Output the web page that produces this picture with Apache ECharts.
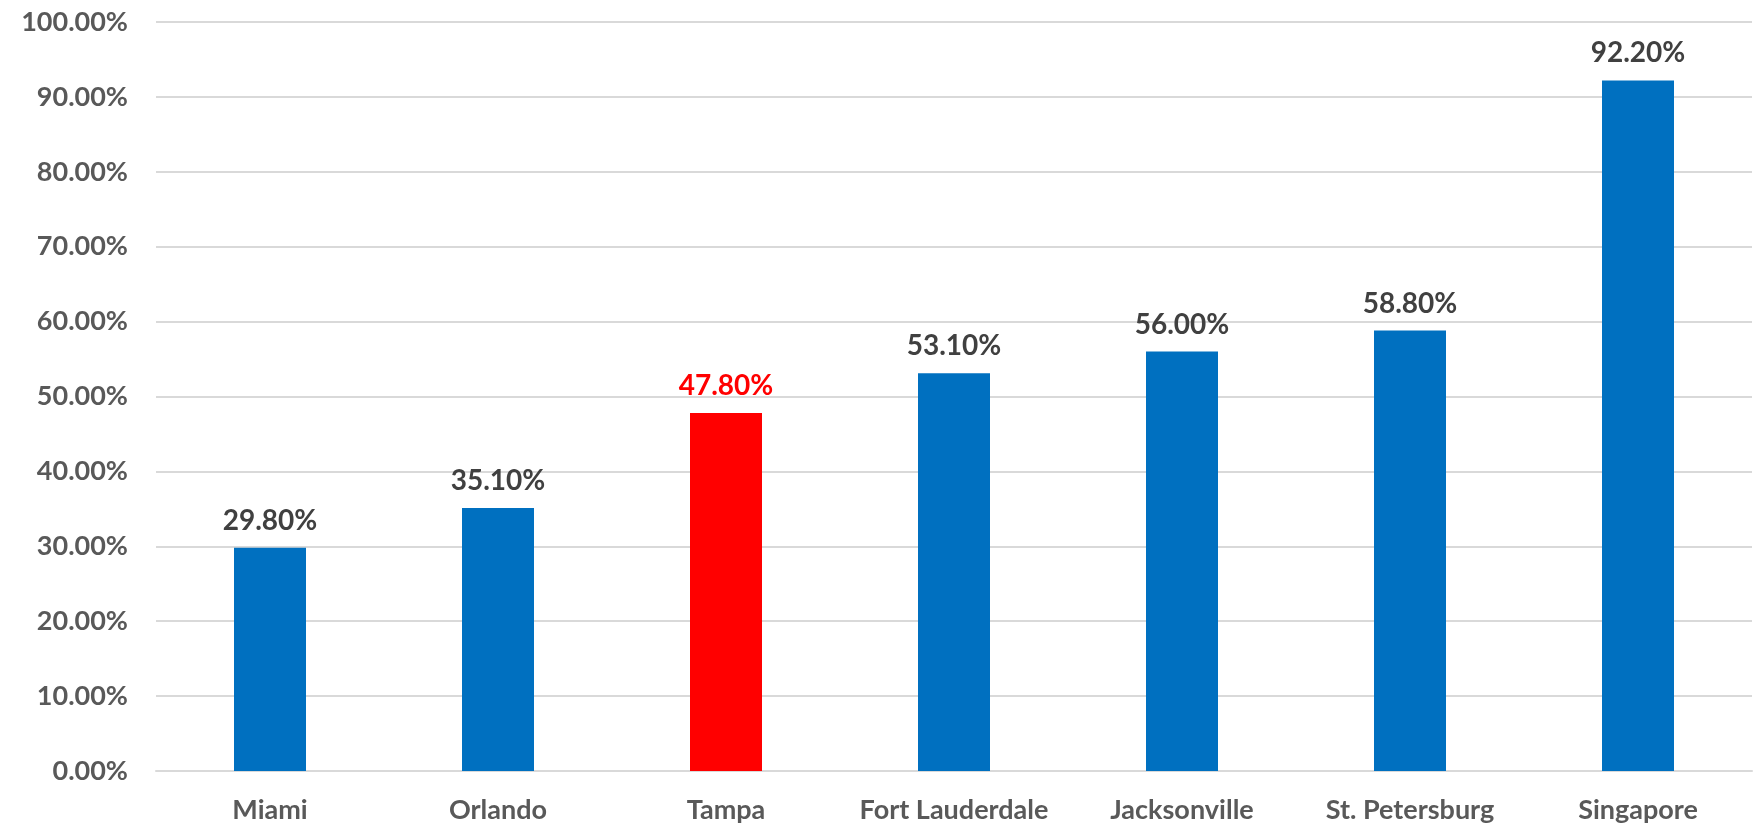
<!DOCTYPE html>
<html><head><meta charset="utf-8">
<script src="https://cdn.jsdelivr.net/npm/echarts@6/dist/echarts.min.js"></script>
<style>html,body{margin:0;padding:0;background:#fff}#c{width:1753px;height:831px}</style>
</head><body><div id="c"></div>
<script>
const categories = ["Miami","Orlando","Tampa","Fort Lauderdale","Jacksonville","St. Petersburg","Singapore"];
const values = [29.8, 35.1, 47.8, 53.1, 56.0, 58.8, 92.2];
const highlight = "Tampa";

const FONT = "Lato";
const chart = echarts.init(document.getElementById('c'), null, {renderer:'canvas'});
chart.setOption({
  animation:false,
  grid:{left:156,right:1,top:22,bottom:60,outerBoundsMode:'none',containLabel:false},
  xAxis:{type:'category',data:categories,
    axisLine:{lineStyle:{color:'#d9d9d9',width:2}},axisTick:{show:false},
    axisLabel:{interval:0,color:'#595959',fontFamily:FONT,fontWeight:'bold',fontSize:27,margin:26}},
  yAxis:{type:'value',min:0,max:100,interval:10,
    axisLine:{show:false},axisTick:{show:false},
    splitLine:{lineStyle:{color:'#d9d9d9',width:2}},
    axisLabel:{color:'#595959',fontFamily:FONT,fontWeight:'bold',fontSize:27,margin:28,
      formatter:v=>v.toFixed(2)+'%'}},
  series:[{type:'bar',barWidth:72,
    data:values.map((v,i)=>({value:v,
      itemStyle:{color:categories[i]===highlight?'#ff0000':'#0070c0'},
      label:{color:categories[i]===highlight?'#ff0000':'#404040'}})),
    label:{show:true,position:'top',distance:13,fontFamily:FONT,fontWeight:'bold',fontSize:28,
      formatter:p=>p.value.toFixed(2)+'%'}}]
});
</script></body></html>
